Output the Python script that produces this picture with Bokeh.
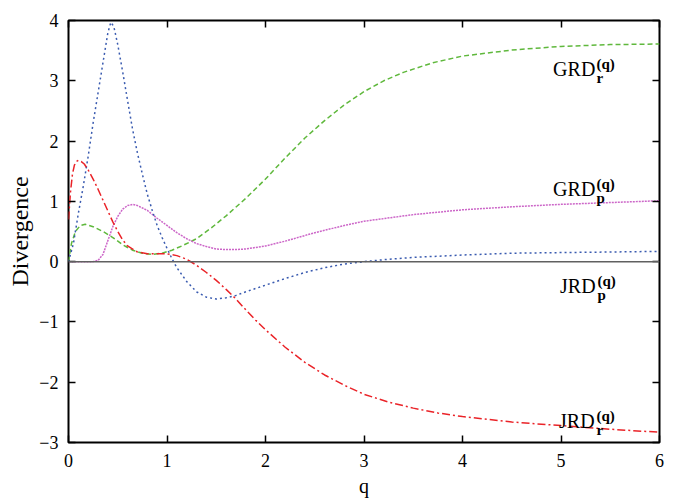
from bokeh.plotting import figure
from bokeh.models import Range1d, FixedTicker, LinearAxis, Span
from bokeh.core.properties import value
from bokeh.embed import file_html
from bokeh.resources import INLINE

# ---------------- data ----------------
jrd_p_x = [0, 0.05, 0.1, 0.15, 0.2, 0.25, 0.3, 0.35, 0.4, 0.43, 0.46, 0.5, 0.55, 0.6, 0.65, 0.7,
           0.75, 0.8, 0.85, 0.9, 0.95, 1.0, 1.05, 1.1, 1.2, 1.3, 1.4, 1.5, 1.6, 1.7, 1.8, 2.0,
           2.2, 2.4, 2.6, 2.8, 3.0, 3.25, 3.5, 4.0, 4.5, 5.0, 5.5, 6.0]
jrd_p_y = [0, 0.3, 0.8, 1.25, 1.75, 2.3, 2.8, 3.3, 3.8, 3.97, 3.9, 3.6, 3.15, 2.67, 2.2, 1.8,
           1.45, 1.12, 0.85, 0.6, 0.4, 0.22, 0.05, -0.1, -0.33, -0.5, -0.59, -0.62, -0.6, -0.56, -0.5, -0.39,
           -0.28, -0.18, -0.1, -0.04, 0.0, 0.04, 0.07, 0.11, 0.14, 0.15, 0.16, 0.17]

jrd_r_x = [0, 0.02, 0.04, 0.06, 0.08, 0.1, 0.13, 0.16, 0.2, 0.25, 0.3, 0.35, 0.4, 0.45, 0.5, 0.55,
           0.6, 0.7, 0.8, 0.9, 1.0, 1.1, 1.2, 1.3, 1.4, 1.5, 1.6, 1.7, 1.8, 1.9, 2.0, 2.2, 2.4,
           2.6, 2.8, 3.0, 3.25, 3.5, 3.75, 4.0, 4.5, 5.0, 5.5, 6.0]
jrd_r_y = [0.7, 1.15, 1.45, 1.6, 1.66, 1.68, 1.66, 1.62, 1.52, 1.37, 1.2, 1.02, 0.84, 0.66, 0.5, 0.36,
           0.26, 0.16, 0.13, 0.13, 0.13, 0.1, 0.04, -0.06, -0.18, -0.31, -0.46, -0.62, -0.8, -0.97, -1.13, -1.42, -1.67,
           -1.88, -2.05, -2.2, -2.33, -2.43, -2.51, -2.57, -2.66, -2.72, -2.78, -2.83]

grd_r_x = [0, 0.03, 0.07, 0.12, 0.17, 0.25, 0.35, 0.45, 0.55, 0.65, 0.75, 0.85, 0.95, 1.05, 1.15,
           1.3, 1.45, 1.6, 1.8, 2.0, 2.2, 2.4, 2.6, 2.8, 3.0, 3.2, 3.4, 3.7, 4.0, 4.5, 5.0, 5.5, 6.0]
grd_r_y = [0, 0.3, 0.5, 0.6, 0.62, 0.58, 0.5, 0.4, 0.28, 0.19, 0.14, 0.12, 0.14, 0.19, 0.26,
           0.38, 0.56, 0.76, 1.05, 1.37, 1.72, 2.05, 2.34, 2.6, 2.82, 3.0, 3.14, 3.3, 3.41, 3.51, 3.57, 3.6, 3.61]

grd_p_x = [0, 0.25, 0.3, 0.35, 0.4, 0.45, 0.5, 0.55, 0.6, 0.65, 0.7, 0.8, 0.9, 1.0, 1.1, 1.2,
           1.3, 1.4, 1.5, 1.6, 1.7, 1.8, 2.0, 2.2, 2.5, 2.8, 3.0, 3.5, 4.0, 4.5, 5.0, 5.5, 6.0]
grd_p_y = [0, 0, 0.02, 0.12, 0.35, 0.58, 0.75, 0.87, 0.93, 0.95, 0.93, 0.85, 0.72, 0.6, 0.48, 0.38,
           0.3, 0.25, 0.21, 0.2, 0.2, 0.21, 0.26, 0.34, 0.48, 0.6, 0.67, 0.78, 0.86, 0.91, 0.95, 0.98, 1.01]

x_ticks = [0, 1, 2, 3, 4, 5, 6]
y_ticks = [-3, -2, -1, 0, 1, 2, 3, 4]

label_base = ["GRD", "GRD", "JRD", "JRD"]
label_sub = ["r", "p", "p", "r"]
label_sup = ["(q)", "(q)", "(q)", "(q)"]
label_x = [4.92, 4.92, 4.99, 4.98]
label_y = [3.2, 1.21, -0.40, -2.64]
label_script_x = [5.36, 5.36, 5.37, 5.36]

# ---------------- figure ----------------
FONT = "Liberation Serif"
p = figure(width=683, height=500, output_backend="svg", toolbar_location=None,
           x_range=Range1d(0, 6), y_range=Range1d(-3, 4),
           min_border_left=68, min_border_right=24, min_border_top=20, min_border_bottom=58)
p.background_fill_color = "white"
p.border_fill_color = "white"
p.grid.visible = False
p.outline_line_color = "black"
p.outline_line_width = 2

p.add_layout(Span(location=0, dimension="width", line_color="#606060", line_width=1.5))

p.line(grd_r_x, grd_r_y, line_color="#5fb83c", line_width=1.5, line_dash="5 3")
p.line(grd_p_x, grd_p_y, line_color="#cc66c8", line_width=1.5, line_dash="2 1")
p.line(jrd_p_x, jrd_p_y, line_color="#3a5bb0", line_width=1.5, line_dash="2 3")
p.line(jrd_r_x, jrd_r_y, line_color="#ea2328", line_width=1.5, line_dash="8 3 2 3")

for ax, ticks in ((p.xaxis[0], x_ticks), (p.yaxis[0], y_ticks)):
    ax.ticker = FixedTicker(ticks=ticks)
    ax.axis_line_color = None
    ax.major_tick_in = 7
    ax.major_tick_out = 0
    ax.major_tick_line_width = 1.5
    ax.minor_tick_line_color = None
    ax.major_label_text_font = FONT
    ax.major_label_text_font_size = "18px"
    ax.major_label_text_color = "black"
    ax.axis_label_text_font = FONT
    ax.axis_label_text_font_style = "normal"
    ax.axis_label_text_color = "black"

p.xaxis[0].axis_label = "q"
p.xaxis[0].axis_label_text_font_size = "20px"
p.xaxis[0].major_label_standoff = 11
p.xaxis[0].axis_label_standoff = 5
p.yaxis[0].axis_label = "Divergence"
p.yaxis[0].axis_label_text_font_size = "24px"
p.yaxis[0].major_label_standoff = 10
p.yaxis[0].axis_label_standoff = 3

# mirrored ticks
top = LinearAxis(ticker=FixedTicker(ticks=x_ticks))
right = LinearAxis(ticker=FixedTicker(ticks=y_ticks))
for ax in (top, right):
    ax.axis_line_color = None
    ax.major_tick_in = 7
    ax.major_tick_out = 0
    ax.major_tick_line_width = 1.5
    ax.minor_tick_line_color = None
    ax.major_label_text_font_size = "0px"
    ax.major_label_standoff = 0
p.add_layout(top, "above")
p.add_layout(right, "right")

# curve labels
p.text(label_x, label_y, text=label_base, text_font=value(FONT), text_font_size="20px",
       text_align="left", text_baseline="alphabetic", text_color="black")
p.text(label_script_x, label_y, text=label_sub, text_font=value(FONT), text_font_size="15px",
       text_font_style="bold", text_align="left", text_baseline="alphabetic", text_color="black",
       y_offset=9)
p.text(label_script_x, label_y, text=label_sup, text_font=value(FONT), text_font_size="15px",
       text_font_style="bold", text_align="left", text_baseline="alphabetic", text_color="black",
       y_offset=-5)

open("out.html", "w").write(file_html(p, INLINE))
